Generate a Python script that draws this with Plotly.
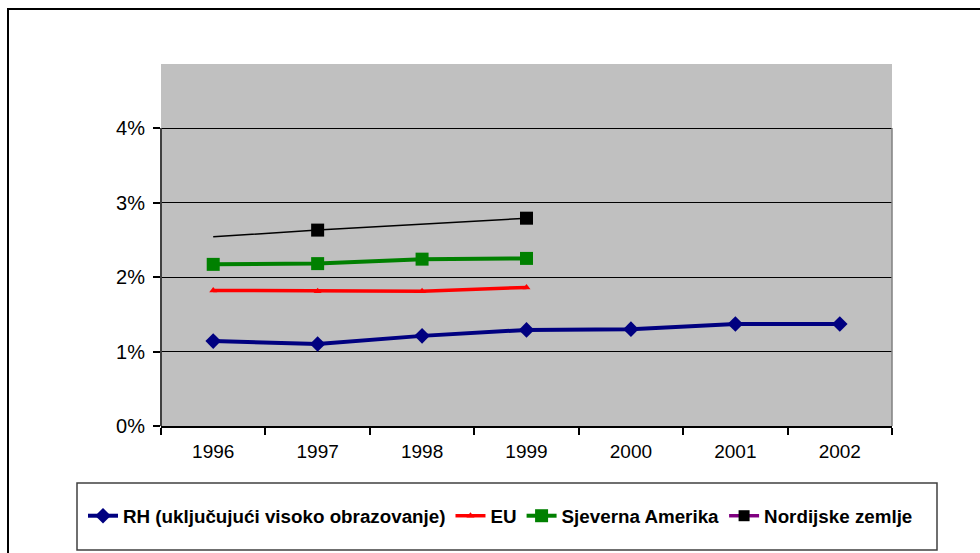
import plotly.graph_objects as go

years = ["1996", "1997", "1998", "1999", "2000", "2001", "2002"]
rh = [1.14, 1.10, 1.21, 1.29, 1.30, 1.37, 1.37]
eu = [1.82, 1.81, 1.81, 1.86]
sjeverna_amerika = [2.17, 2.18, 2.24, 2.25]
nordijske = [2.54, 2.63, None, 2.79]
nordijske_marker = [0, 13, 0, 13]
y_ticks = [0, 1, 2, 3, 4]
y_tick_labels = ["0%", "1%", "2%", "3%", "4%"]

names = ["RH (uključujući visoko obrazovanje)", "EU", "Sjeverna Amerika", "Nordijske zemlje"]

FONT = "Arial, Liberation Sans, sans-serif"

fig = go.Figure()
fig.add_trace(go.Scatter(x=years, y=rh, name=names[0], mode="lines+markers",
                         line=dict(color="#000080", width=4),
                         marker=dict(symbol="diamond", size=12, color="#000080", line=dict(width=0))))
fig.add_trace(go.Scatter(x=years[:4], y=eu, name=names[1], mode="lines+markers",
                         line=dict(color="#FF0000", width=3.5),
                         marker=dict(symbol="triangle-up", size=7, color="#FF0000", line=dict(width=0))))
fig.add_trace(go.Scatter(x=years[:4], y=sjeverna_amerika, name=names[2], mode="lines+markers",
                         line=dict(color="#008000", width=4),
                         marker=dict(symbol="square", size=13, color="#008000", line=dict(width=0))))
fig.add_trace(go.Scatter(x=years[:4], y=nordijske, name=names[3], mode="lines+markers",
                         connectgaps=True, showlegend=False,
                         line=dict(color="#000000", width=1.5),
                         marker=dict(symbol="square", size=nordijske_marker, color="#000000",
                                     opacity=1, line=dict(width=0))))
# legend entry for Nordic series (purple line, black square as in source legend)
fig.add_trace(go.Scatter(x=[None], y=[None], name=names[3], mode="lines+markers",
                         line=dict(color="#800080", width=3.5),
                         marker=dict(symbol="square", size=11, color="#000000", line=dict(width=0))))

# plot area: x 161..892, y 64..426 (px)
L, R, T, B = 161, 892, 64, 426
W, H = R - L, B - T

def px(x):
    return (x - L) / W

def py(y):
    return (B - y) / H

shapes = [
    # outer chart border
    dict(type="rect", xref="paper", yref="paper", x0=px(8), x1=px(990), y0=py(565), y1=py(9),
         line=dict(color="black", width=2), fillcolor="rgba(0,0,0,0)", layer="above"),
    # left axis line (0..4%)
    dict(type="line", xref="paper", yref="y", x0=0, x1=0, y0=0, y1=4,
         line=dict(color="#404040", width=2)),
    # right plot border (0..4%)
    dict(type="line", xref="paper", yref="y", x0=1, x1=1, y0=0, y1=4,
         line=dict(color="#808080", width=1.5)),
    # legend box
    dict(type="rect", xref="paper", yref="paper", x0=px(77), x1=px(937), y0=py(550), y1=py(483),
         line=dict(color="#404040", width=1.5), fillcolor="white", layer="below"),
]

fig.update_layout(
    width=980, height=553,
    margin=dict(l=L, r=980 - R, t=T, b=553 - B),
    paper_bgcolor="white",
    plot_bgcolor="#C0C0C0",
    font=dict(family=FONT, color="black", size=18),
    shapes=shapes,
    showlegend=True,
    legend=dict(orientation="h", x=px(83), xanchor="left", y=py(516), yanchor="middle",
                bgcolor="rgba(0,0,0,0)", borderwidth=0,
                font=dict(family=FONT, size=18.8, color="black", weight="bold"),
                itemwidth=30, tracegroupgap=0),
    xaxis=dict(type="category", categoryorder="array", categoryarray=years,
               range=[-0.5, 6.5], showgrid=False, showline=True, linecolor="black", linewidth=1.5,
               ticks="outside", tickson="boundaries", ticklen=7, tickcolor="black", tickwidth=1.5,
               ticklabelstandoff=7,
               tickfont=dict(family=FONT, size=19, color="black"), zeroline=False),
    yaxis=dict(range=[0, 4.86], tickvals=y_ticks, ticktext=y_tick_labels,
               showgrid=True, gridcolor="black", gridwidth=1, showline=False, zeroline=False,
               ticks="outside", ticklen=7, tickcolor="black", tickwidth=1.5,
               ticklabelstandoff=4,
               tickfont=dict(family=FONT, size=20, color="black")),
)

fig.write_html("out.html", config={"displayModeBar": False},
               post_script="document.body.style.margin='0';document.body.style.overflow='hidden';")
